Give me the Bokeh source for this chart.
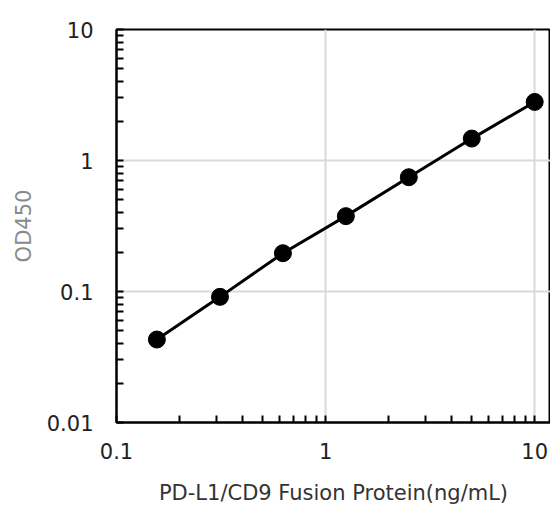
from bokeh.plotting import figure
from bokeh.models import Range1d, FixedTicker, CustomJSTickFormatter
from bokeh.embed import file_html
from bokeh.resources import INLINE

conc = [0.156, 0.3125, 0.625, 1.25, 2.5, 5, 10]
od450 = [0.043, 0.091, 0.196, 0.376, 0.745, 1.47, 2.8]
x_ticks = [0.1, 1, 10]
y_ticks = [0.01, 0.1, 1, 10]

FONT = "DejaVu Sans"

p = figure(width=550, height=507, x_axis_type="log", y_axis_type="log",
           x_range=Range1d(0.1, 11.9), y_range=Range1d(0.01, 10),
           output_backend="svg", toolbar_location=None,
           min_border_left=116, min_border_right=0, min_border_top=29,
           min_border_bottom=84)

p.outline_line_color = "black"
p.outline_line_width = 2

for ax in (p.xaxis[0], p.yaxis[0]):
    ax.axis_line_width = 2
    ax.axis_line_color = "black"
    ax.major_tick_in = 7
    ax.major_tick_out = 0
    ax.minor_tick_in = 7
    ax.minor_tick_out = 0
    ax.major_tick_line_width = 2
    ax.minor_tick_line_width = 2
    ax.major_label_text_font = FONT
    ax.major_label_text_font_size = "21px"
    ax.major_label_text_color = "#222222"
    ax.axis_label_text_font = FONT
    ax.axis_label_text_font_size = "21px"
    ax.axis_label_text_font_style = "normal"

p.xaxis.ticker = FixedTicker(ticks=x_ticks, minor_ticks=[a * b for a in [0.1, 1] for b in range(2, 10)])
p.yaxis.ticker = FixedTicker(ticks=y_ticks, minor_ticks=[a * b for a in [0.01, 0.1, 1] for b in range(2, 10)])
fmt = CustomJSTickFormatter(code="return tick.toString();")
p.xaxis.formatter = fmt
p.yaxis.formatter = fmt

p.xaxis.major_label_standoff = 20
p.yaxis.major_label_standoff = 23
p.xaxis.axis_label = "PD-L1/CD9 Fusion Protein(ng/mL)"
p.yaxis.axis_label = "OD450"
p.xaxis.axis_label_text_color = "#333333"
p.yaxis.axis_label_text_color = "#8a8a8a"
p.xaxis.axis_label_standoff = 19
p.yaxis.axis_label_standoff = 8

p.xgrid.ticker = FixedTicker(ticks=[1, 10])
p.ygrid.ticker = FixedTicker(ticks=[0.1, 1])
p.grid.grid_line_color = "#d9d9d9"
p.grid.grid_line_width = 2

p.line(conc, od450, line_color="black", line_width=3)
p.scatter(conc, od450, size=17, fill_color="black", line_color="black")

open("out.html", "w").write(file_html(p, INLINE))
